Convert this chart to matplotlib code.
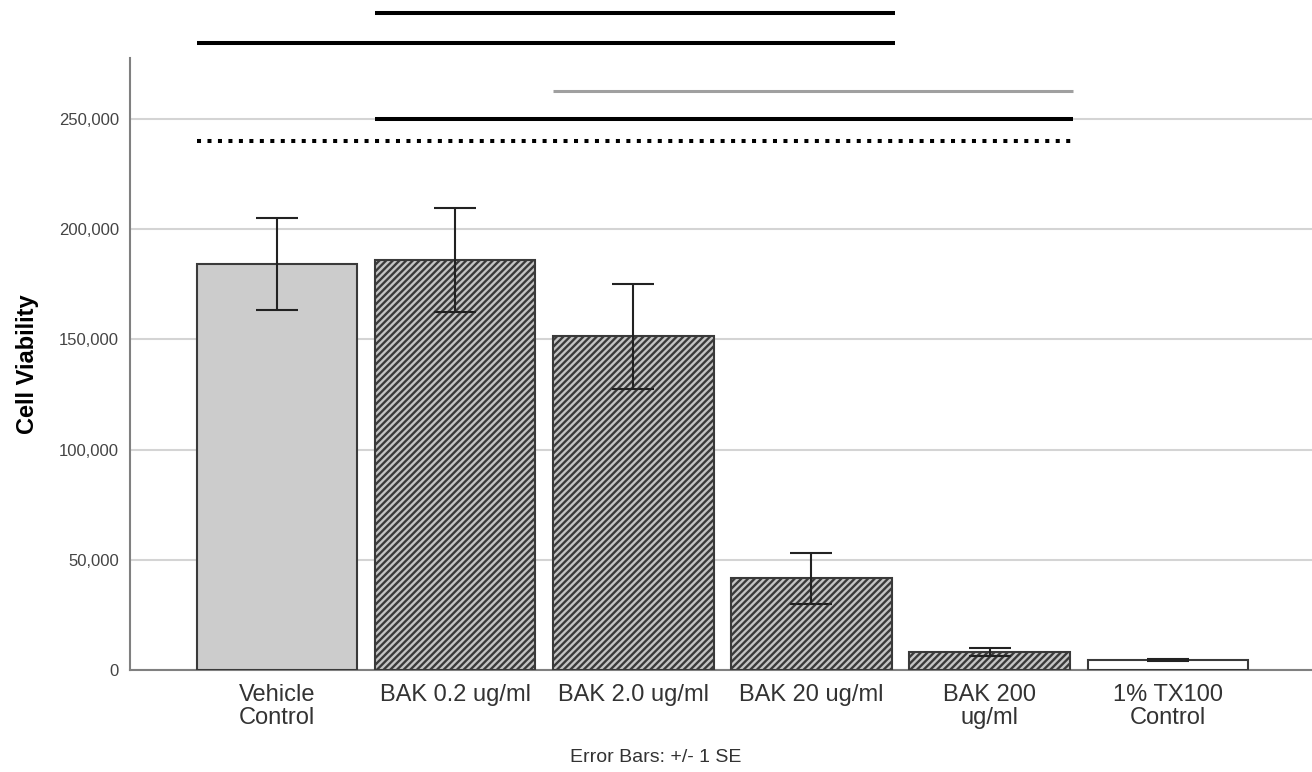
import matplotlib
matplotlib.use("Agg")
import matplotlib.pyplot as plt
from matplotlib.ticker import FuncFormatter

plt.rcParams['font.family'] = ['Liberation Sans', 'DejaVu Sans']
plt.rcParams['hatch.linewidth'] = 1.7
plt.rcParams['hatch.color'] = '#454545'

groups = ['Vehicle\nControl', 'BAK 0.2 ug/ml', 'BAK 2.0 ug/ml', 'BAK 20 ug/ml',
          'BAK 200\nug/ml', '1% TX100\nControl']
viability = [184200, 186000, 151500, 41700, 8200, 4500]
se = [20900, 23600, 23800, 11600, 1800, 500]
faces = ['#cccccc', '#c4c4c4', '#c4c4c4', '#c4c4c4', '#c4c4c4', '#ffffff']
hatches = ['', '/////', '/////', '/////', '/////', '']

# significance brackets: (first group, last group, height, color, style)
sig_first = [1, 0, 2, 1, 0]
sig_last = [3, 3, 4, 4, 4]
sig_height = [298000, 284500, 262700, 250000, 240000]
sig_color = ['black', 'black', '#a0a0a0', 'black', 'black']
sig_style = ['-', '-', '-', '-', (0, (1, 1.6))]
sig_width = [2.9, 2.9, 2.2, 2.9, 2.9]

fig = plt.figure(figsize=(13.12, 7.72), dpi=100)
ax = fig.add_axes([0.0991, 0.1321, 0.9009, 0.7928])

x = list(range(len(groups)))
width = 0.9
for i in x:
    ax.bar(i, viability[i], width=width, color=faces[i], hatch=hatches[i],
           edgecolor='#3a3a3a', linewidth=1.5, zorder=3)
ax.errorbar(x, viability, yerr=se, fmt='none', ecolor='#222222',
            elinewidth=1.5, capsize=15, capthick=1.5, zorder=4)

for a, b, h, c, s, w in zip(sig_first, sig_last, sig_height, sig_color, sig_style, sig_width):
    ax.plot([a - width / 2, b + width / 2 + 0.02], [h, h], color=c, linestyle=s,
            linewidth=w, solid_capstyle='butt', dash_capstyle='butt',
            clip_on=False, zorder=5)

ax.set_xlim(-0.826, 5.81)
ax.set_ylim(0, 277700)
ax.set_yticks(range(0, 250001, 50000))
ax.yaxis.set_major_formatter(FuncFormatter(lambda v, p: f'{int(v):,}'))
ax.grid(axis='y', color='#d4d4d4', linewidth=1.5, zorder=0)
ax.set_axisbelow(True)

ax.set_xticks(x)
ax.set_xticklabels(groups, fontsize=17, color='#333333', linespacing=1.05)
ax.tick_params(axis='x', length=0, pad=10)
ax.tick_params(axis='y', length=0, pad=8, labelsize=12, labelcolor='#444444')

for side in ['top', 'right']:
    ax.spines[side].set_visible(False)
for side in ['left', 'bottom']:
    ax.spines[side].set_color('#808080')
    ax.spines[side].set_linewidth(1.5)

ax.set_ylabel('Cell Viability', fontsize=17, fontweight='bold', labelpad=14)
fig.text(0.5, 0.013, 'Error Bars: +/- 1 SE', ha='center', fontsize=14, color='#333333')

fig.savefig('out.png', dpi=100)
